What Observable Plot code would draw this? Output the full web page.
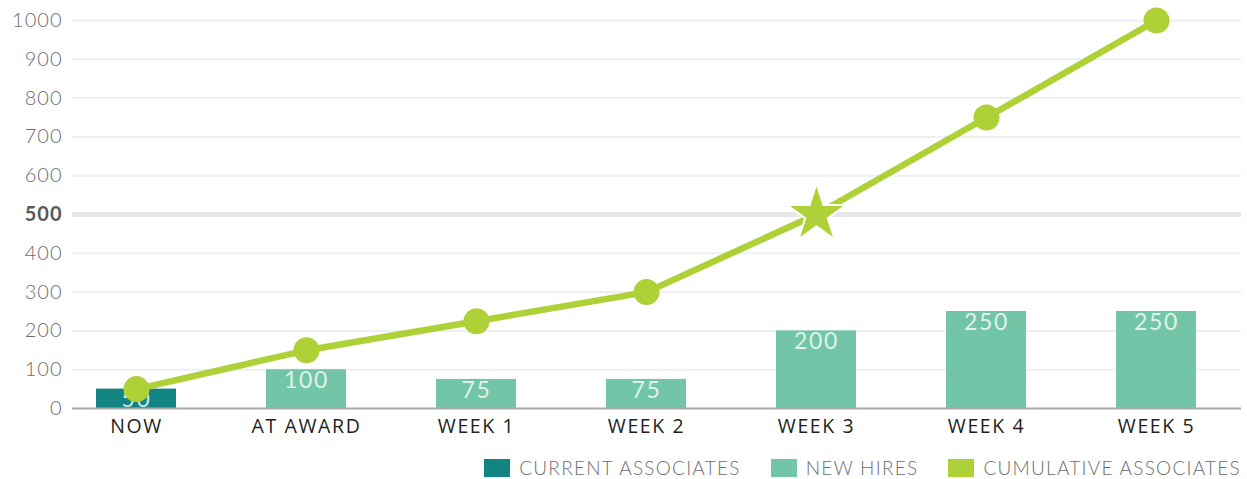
<!DOCTYPE html>
<html>
<head>
<meta charset="utf-8">
<script src="https://cdn.jsdelivr.net/npm/d3@7"></script>
<script src="https://cdn.jsdelivr.net/npm/@observablehq/plot@0.6"></script>
<style>
  html, body { margin: 0; padding: 0; background: #fff; }
  body { width: 1247px; height: 479px; overflow: hidden; font-family: Lato, "Open Sans", sans-serif; }
  #legend { display: flex; justify-content: flex-end; align-items: flex-start; height: 31px; padding-right: 6px; box-sizing: border-box; padding-top: 11px; }
  .item { display: flex; align-items: center; margin-left: 30px; font-size: 19px; line-height: 18px; font-weight: 300; color: #6d6e71; letter-spacing: 1.25px; }
  .item:first-child { margin-left: 0; }
  .sw { width: 26px; height: 18px; margin-right: 9px; }
  g[aria-label="x-axis tick label"] text { letter-spacing: 1.6px; }
  g[aria-label="y-axis tick label"] text { letter-spacing: 1px; }
  g[aria-label="text"] text { letter-spacing: 1.6px; }
</style>
</head>
<body>
<div id="chart"></div>
<div id="legend"></div>
<script>
const categories = ["NOW", "AT AWARD", "WEEK 1", "WEEK 2", "WEEK 3", "WEEK 4", "WEEK 5"];
const barValues = [50, 100, 75, 75, 200, 250, 250];
const barSeries = ["CURRENT ASSOCIATES", "NEW HIRES", "NEW HIRES", "NEW HIRES", "NEW HIRES", "NEW HIRES", "NEW HIRES"];
const cumulative = [50, 150, 225, 300, 500, 750, 1000];
const starCategory = "WEEK 3";
const yTicks = [0, 100, 200, 300, 400, 500, 600, 700, 800, 900, 1000];
const legendNames = ["CURRENT ASSOCIATES", "NEW HIRES", "CUMULATIVE ASSOCIATES"];
const legendColors = ["#128583", "#72c6a7", "#add136"];

const bars = categories.map((c, i) => ({cat: c, v: barValues[i], s: barSeries[i]}));
const cum = categories.map((c, i) => ({cat: c, v: cumulative[i]}));

const chart = Plot.plot({
  width: 1247,
  height: 448,
  marginLeft: 72,
  marginRight: 6,
  marginTop: 20,
  marginBottom: 40,
  style: {fontFamily: "Lato, 'Open Sans', sans-serif", background: "white", overflow: "visible"},
  x: {domain: categories, range: [51, 1241], paddingInner: 0.53, paddingOuter: 0.26, label: null},
  y: {domain: [0, 1000], label: null},
  color: {domain: legendNames.slice(0, 2), range: legendColors.slice(0, 2)},
  marks: [
    Plot.ruleY(yTicks.filter(d => d !== 0 && d !== 500), {stroke: "#eeeff0", strokeWidth: 2}),
    Plot.ruleY([500], {stroke: "#e6e7e8", strokeWidth: 5}),
    Plot.axisY(yTicks.filter(d => d !== 500), {tickSize: 0, tickPadding: 10, tickFormat: d => String(d), fontSize: 20, fontWeight: 300, fill: "#6d6e71", label: null}),
    Plot.axisY([500], {tickSize: 0, tickPadding: 10, tickFormat: d => String(d), fontSize: 20, fontWeight: 700, fill: "#58595b", label: null}),
    Plot.barY(bars, {x: "cat", y: "v", fill: "s"}),
    Plot.ruleY([0], {stroke: "#a7a9ac", strokeWidth: 2}),
    Plot.text(bars, {x: "cat", y: "v", text: d => String(d.v), lineAnchor: "top", dy: 2, fontSize: 23, fill: "white", fillOpacity: 0.8}),
    Plot.axisX({tickSize: 0, tickPadding: 11, fontSize: 19.5, fontWeight: 400, fontFamily: "'Open Sans', Lato, sans-serif", fill: "#231f20", label: null}),
    Plot.line(cum, {x: "cat", y: "v", stroke: "#add136", strokeWidth: 6.5}),
    Plot.dot(cum.filter(d => d.cat !== starCategory), {x: "cat", y: "v", r: 13, fill: "#add136"}),
    Plot.dot(cum.filter(d => d.cat === starCategory), {x: "cat", y: "v", r: 18.5, symbol: "star", fill: "#add136", stroke: "white", strokeWidth: 2})
  ]
});
document.getElementById("chart").appendChild(chart);

const legend = document.getElementById("legend");
legendNames.forEach((n, i) => {
  const it = document.createElement("div");
  it.className = "item";
  const sw = document.createElement("div");
  sw.className = "sw";
  sw.style.background = legendColors[i];
  it.appendChild(sw);
  it.appendChild(document.createTextNode(n));
  legend.appendChild(it);
});
</script>
</body>
</html>
